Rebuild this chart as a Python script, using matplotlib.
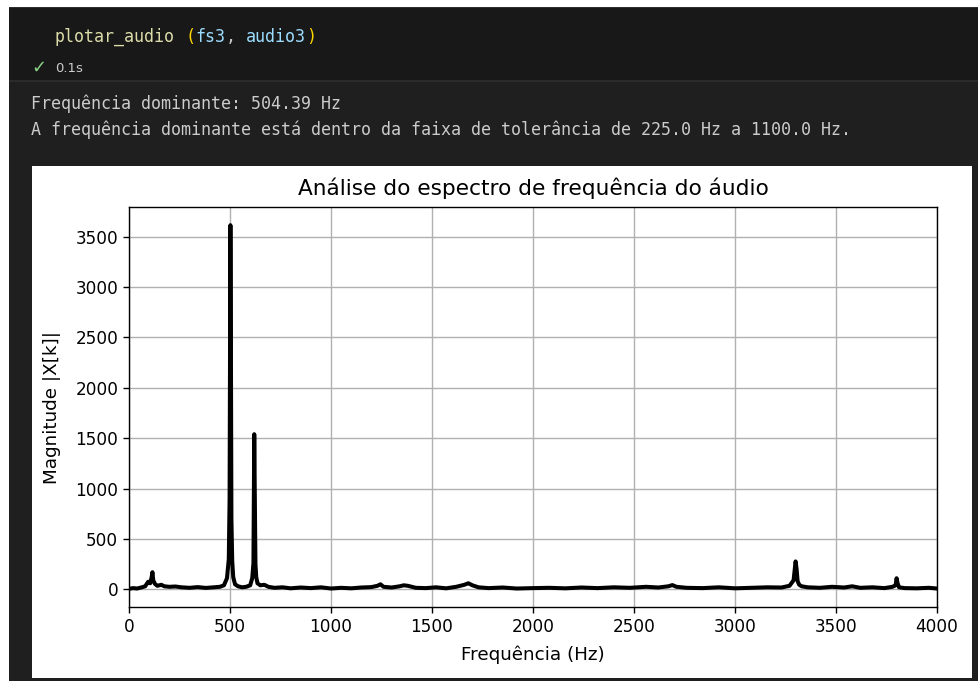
import matplotlib
matplotlib.use("Agg")
import matplotlib.pyplot as plt
from matplotlib.patches import Rectangle

plt.rcParams["font.family"] = ["DejaVu Sans"]

# espectro (Hz, |X[k]|)
freqs = [0, 20, 40, 60, 80, 95, 105, 112, 116, 120, 128, 140, 160, 175, 200,
         230, 260, 300, 340, 380, 420, 450, 470, 485, 494, 498, 502, 504.4,
         507, 511, 516, 525, 540, 560, 580, 600, 610, 616, 620, 623, 626, 630,
         636, 650, 670, 690, 720, 760, 800, 850, 900, 950, 1000, 1050, 1100,
         1150, 1200, 1230, 1245, 1260, 1300, 1340, 1360, 1380, 1420, 1470,
         1520, 1570, 1620, 1660, 1680, 1700, 1730, 1780, 1850, 1920, 2000,
         2080, 2160, 2240, 2320, 2400, 2480, 2560, 2620, 2670, 2690, 2710,
         2760, 2840, 2920, 3000, 3080, 3160, 3230, 3270, 3290, 3300, 3305,
         3310, 3318, 3330, 3360, 3420, 3480, 3540, 3580, 3620, 3680, 3740,
         3780, 3795, 3800, 3805, 3812, 3840, 3900, 3960, 4000]
mags = [5, 12, 8, 18, 30, 75, 60, 120, 170, 90, 55, 35, 45, 30, 25,
        28, 20, 15, 22, 14, 20, 25, 40, 110, 300, 900, 3615, 2500,
        700, 280, 120, 50, 30, 20, 25, 40, 110, 260, 1540, 900, 250, 120,
        60, 40, 45, 25, 15, 20, 10, 18, 12, 20, 8, 15, 10,
        18, 22, 35, 50, 25, 18, 30, 40, 35, 15, 12,
        20, 10, 25, 45, 60, 40, 20, 12, 18, 8, 12,
        15, 10, 18, 12, 20, 15, 25, 18, 30, 42, 25,
        15, 12, 20, 10, 15, 20, 18, 35, 90, 277, 200,
        80, 45, 30, 20, 15, 25, 18, 30, 15, 20, 12,
        25, 40, 110, 60, 20, 12, 10, 15, 8]

code_parts = [("plotar_audio", "#DCDCAA"), (" ", "#CCCCCC"), ("(", "#FFD700"),
              ("fs3", "#9CDCFE"), (", ", "#CCCCCC"), ("audio3", "#9CDCFE"),
              (")", "#FFD700")]
out_lines = ["Frequência dominante: 504.39 Hz",
             "A frequência dominante está dentro da faixa de tolerância de 225.0 Hz a 1100.0 Hz."]

W, H = 979, 681
fig = plt.figure(figsize=(W / 100, H / 100), dpi=100, facecolor="white")


def box(x0, y0, x1, y1, color):
    # coordenadas em pixels a partir do canto superior esquerdo
    fig.patches.append(Rectangle((x0 / W, 1 - y1 / H), (x1 - x0) / W, (y1 - y0) / H,
                                 transform=fig.transFigure, facecolor=color,
                                 edgecolor="none", zorder=-5))


def txt(x, y, s, color, size, family="DejaVu Sans Mono"):
    fig.text(x / W, 1 - y / H, s, color=color, fontsize=size, family=family,
             va="center", ha="left")


box(9, 7, W, H, "#1F1F1F")
box(9, 7, W, 80, "#181818")
box(9, 7, W, 8, "#2E2E2E")
box(9, 80, W, 82, "#2B2B2B")
box(32, 166, 972, 678, "white")

# celula de codigo
fs_mono = 12.0
cw = 0.602 * fs_mono * 100 / 72
x = 55
for s, c in code_parts:
    txt(x, 37, s, c, fs_mono)
    x += len(s) * cw
txt(31, 68, "✓", "#89D185", 13, family="DejaVu Sans")
txt(55, 68, "0.1s", "#CCCCCC", 9.5, family="DejaVu Sans")

# saida de texto
for i, line in enumerate(out_lines):
    txt(31, 104 + 26 * i, line, "#CCCCCC", fs_mono)

# grafico
ax = fig.add_axes([129 / W, 1 - 607 / H, 808 / W, 400 / H])
ax.set_zorder(5)
ax.plot(freqs, mags, color="black", lw=2.9)
ax.set_xlim(0, 4000)
ax.grid(True, color="#B0B0B0", lw=1.0)
ax.set_title("Análise do espectro de frequência do áudio", fontsize=15.6, pad=8.5)
ax.set_xlabel("Frequência (Hz)", fontsize=13.2, labelpad=7)
ax.set_ylabel("Magnitude |X[k]|", fontsize=13.2, labelpad=10)
ax.tick_params(labelsize=12.2, width=1.0, length=4.2)
for sp in ax.spines.values():
    sp.set_linewidth(1.0)

fig.savefig("out.png", dpi=100, facecolor=fig.get_facecolor())
